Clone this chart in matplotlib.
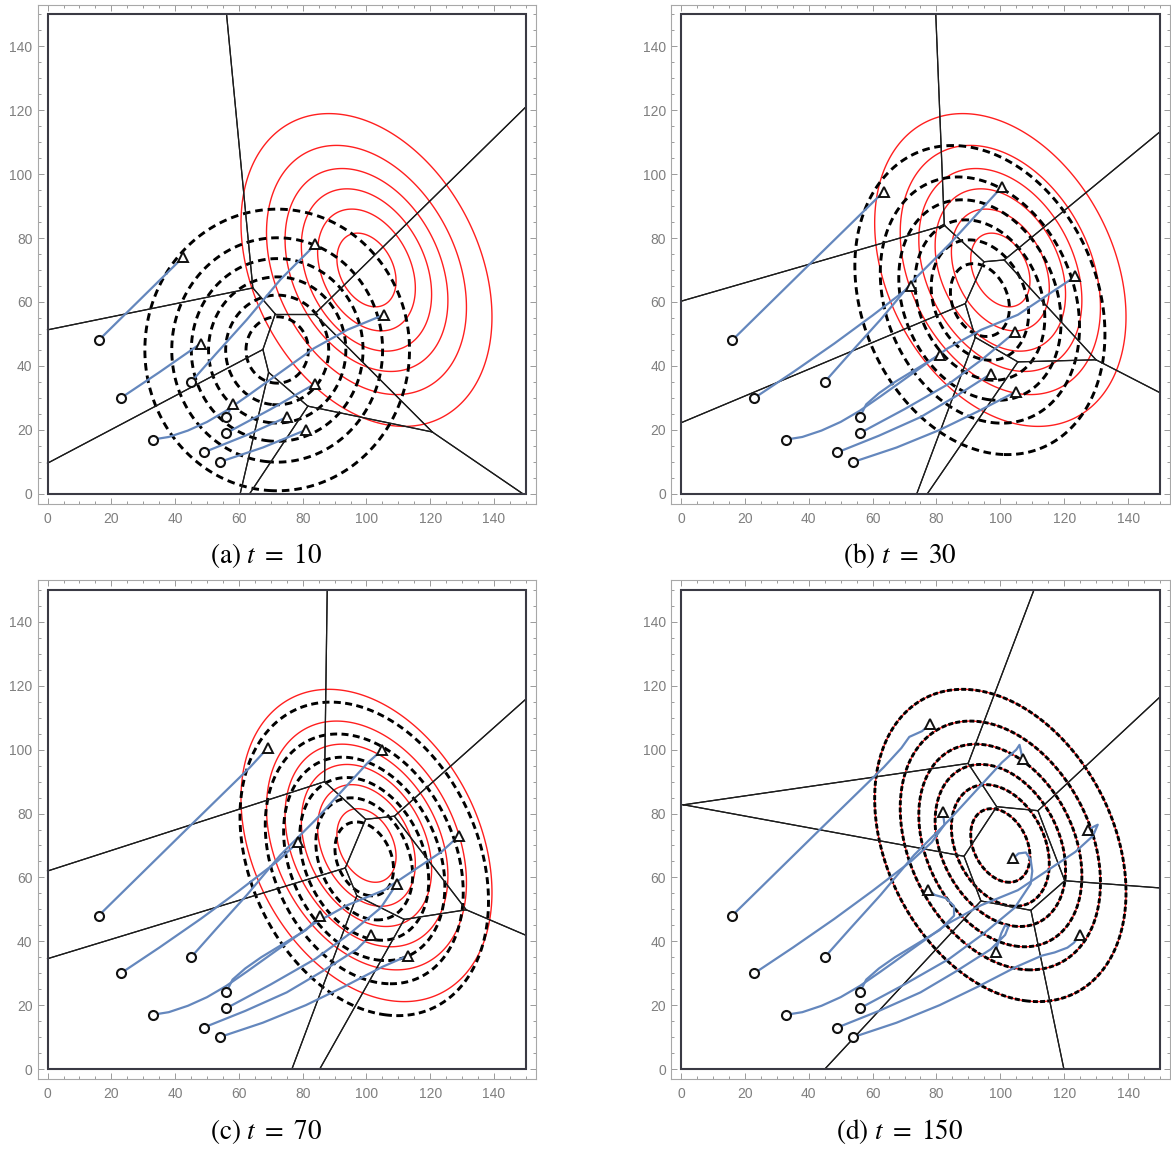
import numpy as np
import matplotlib
matplotlib.use("Agg")
import matplotlib.pyplot as plt
from matplotlib.patches import Rectangle

plt.rcParams['mathtext.fontset'] = 'stix'

W, H = 1171, 1149

# agent trajectories (start point first); the positions at t = 10, 30, 70, 150
# are the waypoints picked out by the stop indices below
traj1 = [(16, 48), (42.5, 74), (63.5, 94.5), (69, 100.5), (71.5, 104), (75.5, 105.8), (78, 108)]
traj2 = [(23, 30), (35, 38), (48, 47), (60, 55.8), (72, 65), (78.5, 71), (82.5, 76.5), (82, 80.5)]
traj3 = [(45, 35), (53, 44), (62.5, 54.5), (73, 67), (84, 78), (100.5, 96), (105, 100),
         (106, 101.5), (107, 97)]
traj4 = [(33, 17), (38, 17.8), (44, 19.8), (50, 22.5), (56, 26), (62.5, 30.5), (73, 38),
         (83.5, 45.5), (94, 51.3), (105.5, 56), (123.5, 68), (129, 73), (130.5, 76.5), (127.5, 75)]
traj5 = [(56, 24), (58, 28), (62, 31.5), (67, 35), (81, 43.5), (85.5, 48), (85.5, 51),
         (83, 53.5), (79.5, 54.5), (77.5, 56)]
traj6 = [(56, 19), (70, 26.5), (84, 34.5), (94.5, 42.2), (104.5, 50.5), (109.5, 58), (110, 62),
         (109.5, 65.5), (108, 67.8), (105.7, 67.5), (104, 66)]
traj7 = [(49, 13), (62, 18.2), (75, 24), (86, 30.5), (97, 37.5), (101.5, 42), (102.5, 44.5),
         (101.5, 45), (100.3, 42.5), (99, 38.5), (98.5, 36.5)]
traj8 = [(54, 10), (67.5, 14.5), (81, 20), (93, 25.8), (105, 32), (113, 35.5), (117, 36.5),
         (121, 38), (123, 39.5), (125, 42)]
trajs = [traj1, traj2, traj3, traj4, traj5, traj6, traj7, traj8]

stops1 = [1, 2, 3, 6]
stops2 = [2, 4, 5, 7]
stops3 = [4, 5, 6, 8]
stops4 = [9, 10, 11, 13]
stops5 = [1, 4, 5, 9]
stops6 = [2, 4, 5, 10]
stops7 = [2, 4, 5, 10]
stops8 = [2, 4, 5, 9]
stops = [stops1, stops2, stops3, stops4, stops5, stops6, stops7, stops8]

# density parameters: mean x, mean y, sd x, sd y, correlation
target = (100, 70, 20.2, 25.1, -0.3)
est_a = (72, 45, 21.3, 22.6, 0.0)
est_b = (93.6, 60.6, 20.1, 24.8, -0.22)
est_c = (99.3, 65.8, 20.0, 25.2, -0.27)
est_d = (100, 70, 20.2, 25.1, -0.3)
estimates = [est_a, est_b, est_c, est_d]

levels = [0.15, 0.3, 0.45, 0.6, 0.75, 0.9]
captions = [r"(a) $t\ =\ 10$", r"(b) $t\ =\ 30$", r"(c) $t\ =\ 70$", r"(d) $t\ =\ 150$"]

# axes rectangles in pixels: left, top, right, bottom
boxes = [(38, 4.5, 535.5, 503.5), (671.4, 4.5, 1169.6, 503.5),
         (38, 580.4, 535.5, 1078.6), (671.4, 580.4, 1169.6, 1078.6)]
cap_pos = [(266, 556), (900, 556), (266, 1132), (900, 1132)]
dash_styles = [(2.6, 1.7), (2.6, 1.6), (2.4, 1.5), (1.7, 0.75)]


def gauss(X, Y, p):
    mx, my, sx, sy, r = p
    dx = (X - mx) / sx
    dy = (Y - my) / sy
    q = (dx * dx - 2 * r * dx * dy + dy * dy) / (1 - r * r)
    return np.exp(-q / 2)


def clip(poly, a, b, c):
    # keep the part of poly with a*x + b*y <= c
    out = []
    n = len(poly)
    for k in range(n):
        p = poly[k]
        q = poly[(k + 1) % n]
        fp = a * p[0] + b * p[1] - c
        fq = a * q[0] + b * q[1] - c
        if fp <= 0:
            out.append(p)
        if fp * fq < 0:
            t = fp / (fp - fq)
            out.append((p[0] + t * (q[0] - p[0]), p[1] + t * (q[1] - p[1])))
    return out


def voronoi_edges(pts, lo=0, hi=150):
    edges = []
    for i, pi in enumerate(pts):
        poly = [(lo, lo), (hi, lo), (hi, hi), (lo, hi)]
        for j, pj in enumerate(pts):
            if i == j:
                continue
            a = pj[0] - pi[0]
            b = pj[1] - pi[1]
            c = a * (pi[0] + pj[0]) / 2 + b * (pi[1] + pj[1]) / 2
            poly = clip(poly, a, b, c)
        for k in range(len(poly)):
            p = poly[k]
            q = poly[(k + 1) % len(poly)]
            on_side = False
            for d in (0, 1):
                for v in (lo, hi):
                    if abs(p[d] - v) < 1e-6 and abs(q[d] - v) < 1e-6:
                        on_side = True
            if not on_side:
                edges.append((p, q))
    return edges


gx = np.linspace(-3, 153, 500)
X, Y = np.meshgrid(gx, gx)
Z_target = gauss(X, Y, target)

fig = plt.figure(figsize=(W / 100, H / 100), dpi=100)

for k in range(4):
    l, t, r, b = boxes[k]
    ax = fig.add_axes([l / W, 1 - b / H, (r - l) / W, (b - t) / H])

    ax.contour(X, Y, Z_target, levels=levels, colors='#ff1f1f', linewidths=1.0, zorder=1)
    Z_est = gauss(X, Y, estimates[k])
    ax.contour(X, Y, Z_est, levels=levels, colors='black', linewidths=2.1,
               linestyles=[(0, dash_styles[k])] * len(levels), zorder=2)

    pos = [tr[st[k]] for tr, st in zip(trajs, stops)]
    for p, q in voronoi_edges(pos):
        ax.plot([p[0], q[0]], [p[1], q[1]], color='#1c1c1c', lw=0.9, zorder=3)

    for tr, st in zip(trajs, stops):
        seg = np.array(tr[:st[k] + 1])
        ax.plot(seg[:, 0], seg[:, 1], color='#6487bd', lw=1.6, zorder=4,
                solid_capstyle='round', solid_joinstyle='round')
        ax.plot(seg[0, 0], seg[0, 1], 'o', ms=6.5, mfc='white', mec='#111111', mew=1.5, zorder=5)
        ax.plot(seg[-1, 0], seg[-1, 1], '^', ms=7, mfc='white', mec='#111111', mew=1.4, zorder=5)

    ax.add_patch(Rectangle((0, 0), 150, 150, fill=False, ec='#3a3a44', lw=1.5, zorder=6))

    ax.set_xlim(-3, 153)
    ax.set_ylim(-3, 153)
    ax.set_xticks(range(0, 141, 20))
    ax.set_yticks(range(0, 141, 20))
    ax.set_xticks(range(0, 151, 5), minor=True)
    ax.set_yticks(range(0, 151, 5), minor=True)
    ax.tick_params(which='both', direction='in', top=True, right=True,
                   color='#9a9a9a', width=0.7)
    ax.tick_params(which='major', length=4.3, labelsize=10, labelcolor='#7f7f7f')
    ax.tick_params(axis='x', which='major', pad=6)
    ax.tick_params(axis='y', which='major', pad=4)
    ax.tick_params(which='minor', length=2.3)
    for lab in ax.get_xticklabels() + ax.get_yticklabels():
        lab.set_family('Liberation Sans')
    for s in ax.spines.values():
        s.set_color('#a8a8a8')
        s.set_linewidth(0.8)

    cx, cy = cap_pos[k]
    fig.text(cx / W, 1 - cy / H, captions[k], ha='center', va='center',
             fontsize=19.5, family='STIXGeneral')

fig.savefig('out.png', dpi=100)
